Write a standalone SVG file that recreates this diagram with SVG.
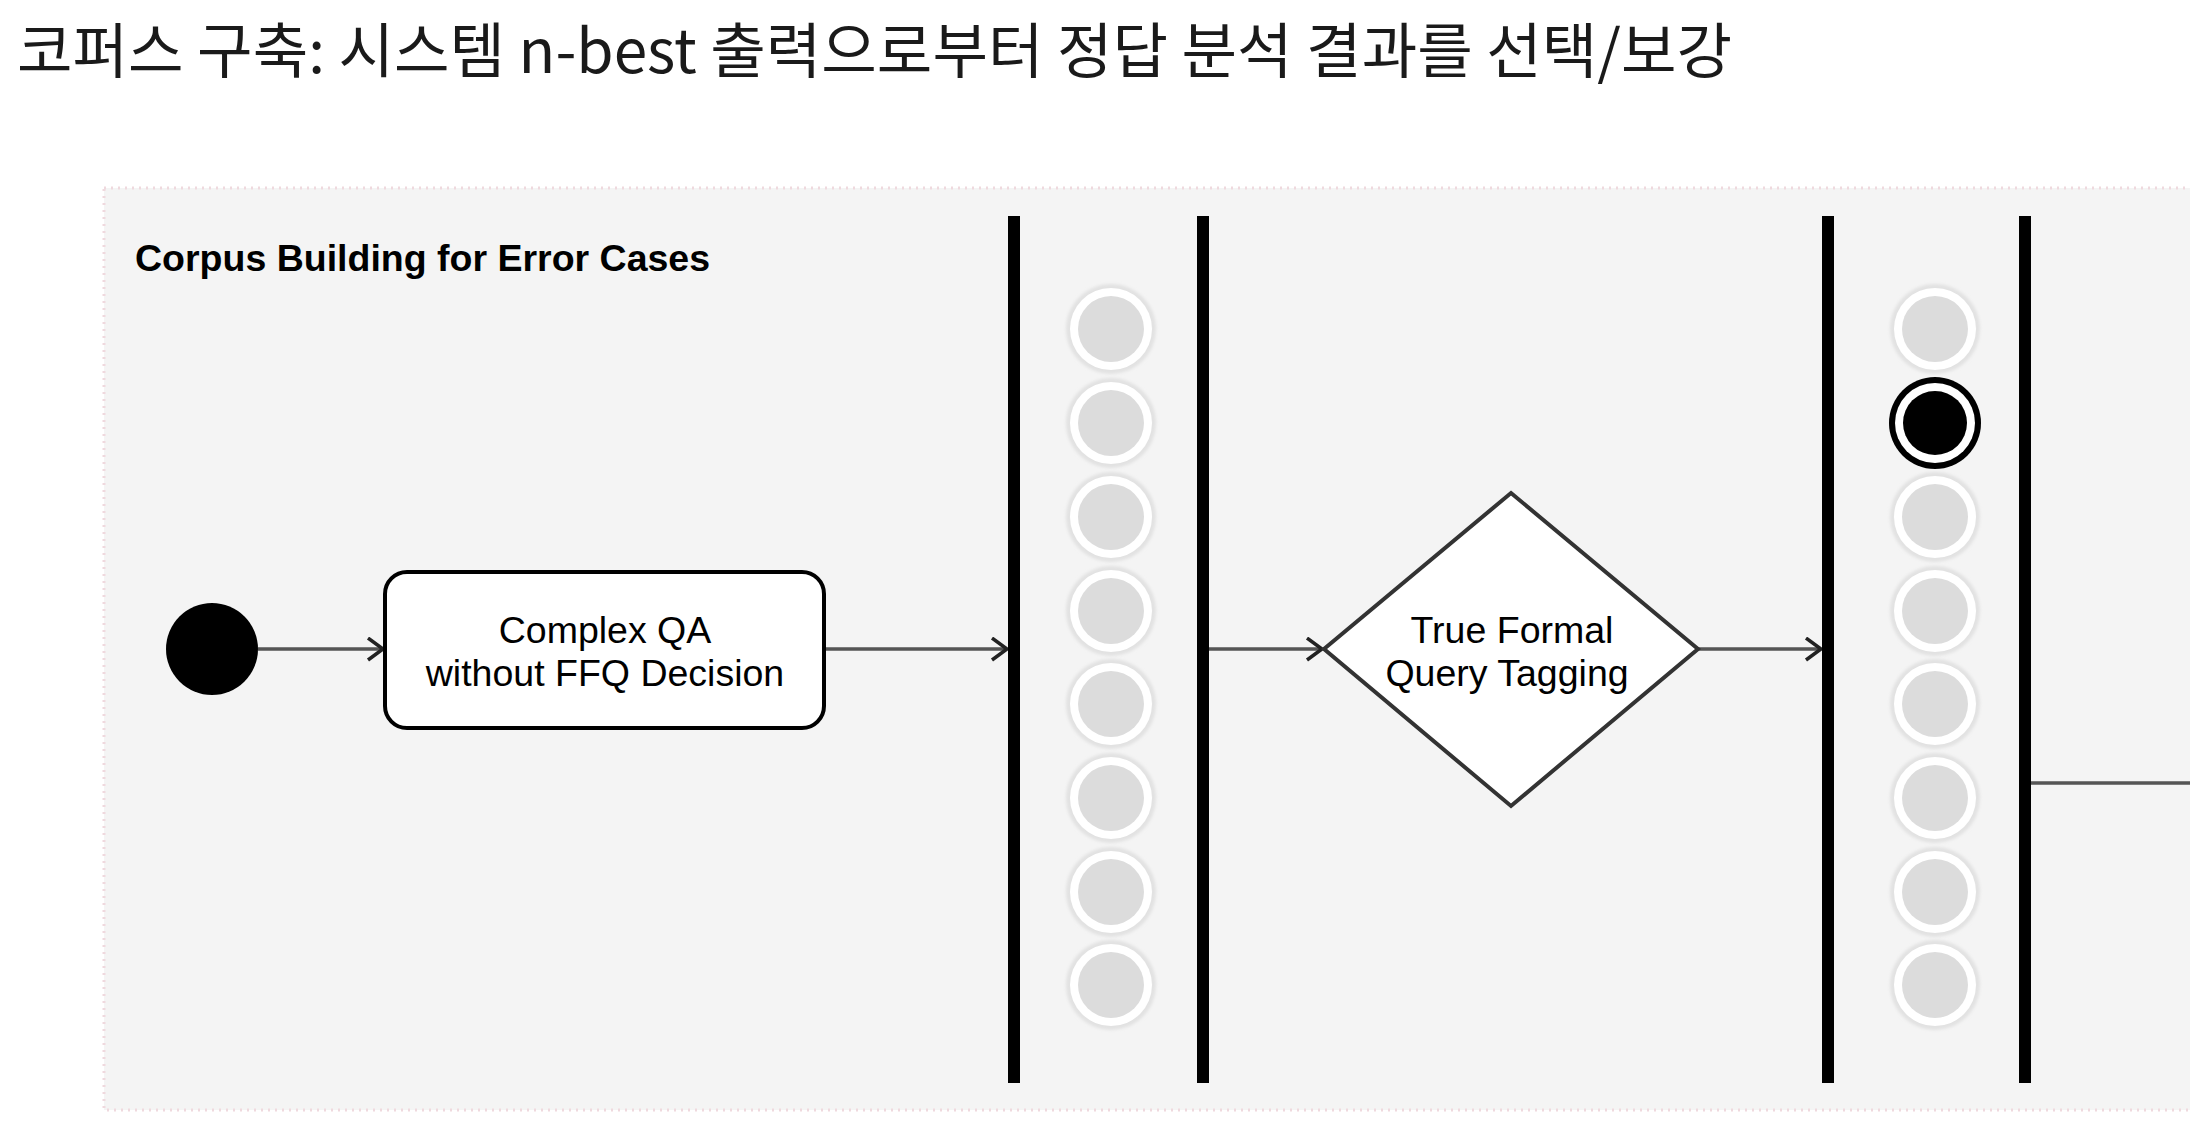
<svg xmlns="http://www.w3.org/2000/svg" width="2190" height="1142" viewBox="0 0 2190 1142">
  <defs>
    <style>
      .title { font-family: "Noto Sans CJK KR", "Noto Sans", sans-serif; font-size: 60px; fill: #1a1a1a; }
      .lane { font-family: "Liberation Sans", Arial, sans-serif; font-size: 37.5px; font-weight: bold; fill: #000; }
      .lbl { font-family: "Liberation Sans", Arial, sans-serif; font-size: 37.5px; fill: #000; text-anchor: middle; }
      .bar { fill: #000; }
      .edge { stroke: #555; stroke-width: 3.5; fill: none; }
      .slot-halo { fill: #e2e2e2; filter: url(#soft); }
      .slot-ring { fill: #ffffff; }
      .slot-core { fill: #dcdcdc; }
    </style>
    <filter id="soft" x="-20%" y="-20%" width="140%" height="140%">
      <feGaussianBlur stdDeviation="1.5"/>
    </filter>
    <marker id="arr" markerUnits="userSpaceOnUse" markerWidth="24" markerHeight="28" refX="17" refY="12" orient="auto">
      <path d="M2,1 L17,12 L2,23" fill="none" stroke="#222" stroke-width="3.5" stroke-linejoin="miter"/>
    </marker>
    <g id="slot">
      <circle r="45" class="slot-halo"/>
      <circle r="41" class="slot-ring"/>
      <circle r="33" class="slot-core"/>
    </g>
  </defs>

  <rect x="0" y="0" width="2190" height="1142" fill="#ffffff"/>

  <text class="title" x="17" y="73" textLength="1715" lengthAdjust="spacingAndGlyphs">코퍼스 구축: 시스템 n-best 출력으로부터 정답 분석 결과를 선택/보강</text>

  <g id="panel">
    <rect x="104" y="188" width="2100" height="922" fill="#f4f4f4" stroke="#efd9de" stroke-width="3" stroke-dasharray="2 5"/>
    <text class="lane" x="135" y="271">Corpus Building for Error Cases</text>
  </g>

  <g id="connectors">
    <line class="edge" x1="258" y1="649" x2="383" y2="649" marker-end="url(#arr)"/>
    <line class="edge" x1="824" y1="649" x2="1007" y2="649" marker-end="url(#arr)"/>
    <line class="edge" x1="1209" y1="649" x2="1322" y2="649" marker-end="url(#arr)"/>
    <line class="edge" x1="1698" y1="649" x2="1821" y2="649" marker-end="url(#arr)"/>
    <line class="edge" x1="2031" y1="783" x2="2190" y2="783"/>
  </g>

  <g id="start">
    <circle cx="212" cy="649" r="46" fill="#000"/>
  </g>

  <g id="complex-qa">
    <rect x="385" y="572" width="439" height="156" rx="22" ry="22" fill="#fff" stroke="#000" stroke-width="4"/>
    <text class="lbl" x="605" y="643">Complex QA</text>
    <text class="lbl" x="605" y="686">without FFQ Decision</text>
  </g>

  <g id="bar1"><rect class="bar" x="1008" y="216" width="12" height="867"/></g>
  <g id="bar2"><rect class="bar" x="1197" y="216" width="12" height="867"/></g>

  <g id="slots1">
    <use href="#slot" x="1111" y="329"/>
    <use href="#slot" x="1111" y="423"/>
    <use href="#slot" x="1111" y="517"/>
    <use href="#slot" x="1111" y="611"/>
    <use href="#slot" x="1111" y="704"/>
    <use href="#slot" x="1111" y="798"/>
    <use href="#slot" x="1111" y="892"/>
    <use href="#slot" x="1111" y="985"/>
  </g>

  <g id="decision">
    <polygon points="1511,493 1698,649 1511,806 1324,649" fill="#fff" stroke="#333" stroke-width="4"/>
    <text class="lbl" x="1512" y="643">True Formal</text>
    <text class="lbl" x="1507" y="686">Query Tagging</text>
  </g>

  <g id="bar3"><rect class="bar" x="1822" y="216" width="12" height="867"/></g>
  <g id="bar4"><rect class="bar" x="2019" y="216" width="12" height="867"/></g>

  <g id="slots2">
    <use href="#slot" x="1935" y="329"/>
    <g id="selected">
      <circle cx="1935" cy="423" r="46" fill="#000"/>
      <circle cx="1935" cy="423" r="40" fill="#fff"/>
      <circle cx="1935" cy="423" r="32" fill="#000"/>
    </g>
    <use href="#slot" x="1935" y="517"/>
    <use href="#slot" x="1935" y="611"/>
    <use href="#slot" x="1935" y="704"/>
    <use href="#slot" x="1935" y="798"/>
    <use href="#slot" x="1935" y="892"/>
    <use href="#slot" x="1935" y="985"/>
  </g>
</svg>
